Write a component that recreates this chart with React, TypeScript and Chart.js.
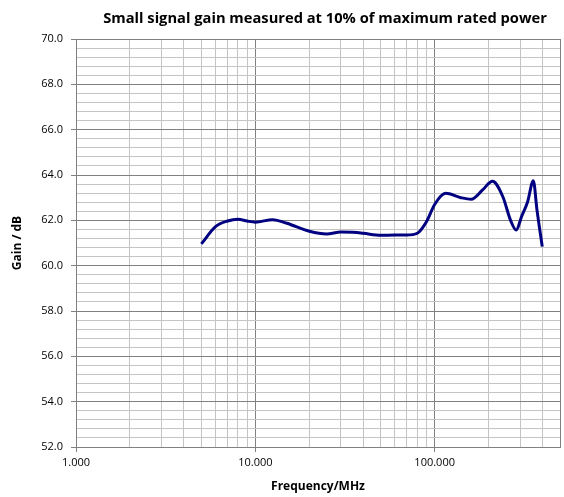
import React, { useEffect, useRef } from "react";
import { Chart, registerables } from "chart.js";

Chart.register(...registerables);

const titleText = "Small signal gain measured at 10% of maximum rated power";
const xTitle = "Frequency/MHz";
const yTitle = "Gain / dB";

const freqMHz = [5, 6, 7, 8, 9, 10, 12.5, 15, 20, 25, 30, 35, 40, 50, 60, 70, 80, 90, 100, 115, 140, 160, 185, 210, 240, 265, 285, 305, 330, 355, 372, 398];
const gainDb = [60.96, 61.72, 61.97, 62.05, 61.97, 61.92, 62.03, 61.87, 61.52, 61.4, 61.48, 61.47, 61.43, 61.34, 61.35, 61.35, 61.43, 61.94, 62.7, 63.19, 63.0, 62.93, 63.34, 63.72, 63.04, 62.0, 61.57, 62.16, 62.82, 63.75, 62.46, 60.84];

const xGridTicks = [1, 2, 3, 4, 5, 6, 7, 8, 9, 10, 20, 30, 40, 50, 60, 70, 80, 90, 100, 200, 300, 400, 500];
const xLabelTicks = [1, 10, 100];
const xMin = 1;
const xMax = 500;

const yMin = 52;
const yMax = 70;
const yMinorStep = 0.4;
const yLabelStep = 2;

const MAJOR = "#808080";
const MINOR = "#c4c4c4";

export default function App() {
  const ref = useRef<HTMLCanvasElement | null>(null);

  useEffect(() => {
    if (!ref.current) return;
    const yTicks: number[] = [];
    for (let i = 0; i <= Math.round((yMax - yMin) / yMinorStep); i++) {
      yTicks.push(Math.round((yMin + i * yMinorStep) * 10) / 10);
    }
    const isXMajor = (v: number) => xLabelTicks.includes(v) || v === xMax;
    const isYMajor = (v: number) => Math.abs(v / yLabelStep - Math.round(v / yLabelStep)) < 1e-6;

    const titlePlugin = {
      id: "customTitle",
      afterDraw(chart: any) {
        const ctx = chart.ctx;
        const a = chart.chartArea;
        ctx.save();
        ctx.font = 'bold 14.7px "Open Sans"';
        ctx.fillStyle = "#000";
        ctx.textAlign = "center";
        ctx.textBaseline = "middle";
        ctx.fillText(titleText, (a.left + a.right) / 2 + 7, 19);
        ctx.restore();
      },
    };

    const chart = new Chart(ref.current, {
      type: "line",
      data: {
        datasets: [
          {
            data: freqMHz.map((f, i) => ({ x: f, y: gainDb[i] })),
            borderColor: "#000080",
            borderWidth: 3,
            pointRadius: 0,
            cubicInterpolationMode: "monotone",
            fill: false,
          },
        ],
      },
      options: {
        animation: false,
        responsive: false,
        maintainAspectRatio: false,
        layout: { padding: { top: 39, right: 4, left: 0, bottom: 0 } },
        plugins: { legend: { display: false }, title: { display: false }, tooltip: { enabled: false } },
        scales: {
          x: {
            type: "logarithmic",
            min: xMin,
            max: xMax,
            afterBuildTicks: (scale: any) => {
              scale.ticks = xGridTicks.map((v) => ({ value: v }));
            },
            afterFit: (scale: any) => {
              scale.height = 50;
            },
            ticks: {
              autoSkip: false,
              maxRotation: 0,
              minRotation: 0,
              padding: 4,
              color: "#000",
              font: { family: "Open Sans", size: 11 },
              callback: (v: any) => (xLabelTicks.includes(Number(v)) ? Number(v).toFixed(3) : ""),
            },
            grid: {
              color: (c: any) => (isXMajor(c.tick?.value) ? MAJOR : MINOR),
              tickColor: (c: any) => (xLabelTicks.includes(c.tick?.value) ? MAJOR : "rgba(0,0,0,0)"),
              tickLength: 5,
              lineWidth: 1,
            },
            border: { color: MAJOR, width: 1 },
            title: {
              display: true,
              text: xTitle,
              color: "#000",
              font: { family: "Open Sans", size: 12, weight: "bold" },
              padding: { top: 0, bottom: 3 },
            },
          },
          y: {
            type: "linear",
            min: yMin,
            max: yMax,
            afterBuildTicks: (scale: any) => {
              scale.ticks = yTicks.map((v) => ({ value: v }));
            },
            afterFit: (scale: any) => {
              scale.width = 76;
            },
            ticks: {
              autoSkip: false,
              padding: 8,
              color: "#000",
              font: { family: "Open Sans", size: 11 },
              callback: (v: any) => (isYMajor(Number(v)) ? Number(v).toFixed(1) : ""),
            },
            grid: {
              color: (c: any) => (isYMajor(c.tick?.value) ? MAJOR : MINOR),
              tickColor: (c: any) => (isYMajor(c.tick?.value) ? MAJOR : "rgba(0,0,0,0)"),
              tickLength: 5,
              lineWidth: 1,
            },
            border: { color: MAJOR, width: 1 },
            title: {
              display: true,
              text: yTitle,
              color: "#000",
              font: { family: "Open Sans", size: 12, weight: "bold" },
              padding: { top: 10, bottom: 0 },
            },
          },
        },
      },
      plugins: [titlePlugin],
    } as any);
    return () => chart.destroy();
  }, []);

  return (
    <div style={{ position: "absolute", left: 0, top: 0, width: 564, height: 497 }}>
      <canvas ref={ref} width={564} height={497} style={{ width: 564, height: 497 }} />
    </div>
  );
}
